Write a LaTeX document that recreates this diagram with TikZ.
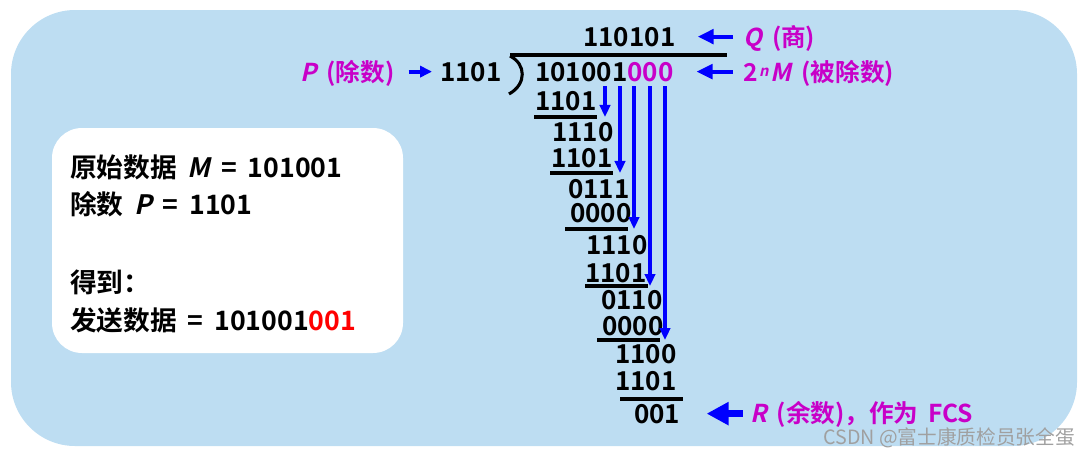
\documentclass[tikz,border=0pt]{standalone}
\usepackage{fontspec}
\setmainfont{Noto Sans CJK SC}[BoldFont={Noto Sans CJK SC Bold},
  ItalicFont={Noto Sans CJK SC}, ItalicFeatures={FakeSlant=0.22},
  BoldItalicFont={Noto Sans CJK SC Bold}, BoldItalicFeatures={FakeSlant=0.22}]
\usetikzlibrary{arrows.meta}
\definecolor{crcbg}{HTML}{BDDDF2}
\definecolor{crcmag}{HTML}{C800C8}
\definecolor{crcblue}{HTML}{0000FF}
\definecolor{crcred}{HTML}{FF0000}
\definecolor{crcmark}{HTML}{A0A0A0}
\newcommand{\supn}{\kern1pt\raisebox{3pt}{\fontsize{10.5}{10.5}\selectfont\textit{n}}\kern1.5pt}
\newcommand{\widespaces}{\spaceskip=0.4em\relax}
\tikzset{
  bits/.style       = {font=\bfseries\fontsize{18.5}{22}\selectfont, inner sep=0pt,
                       anchor=base west, text=black},
  infotext/.style   = {bits, font=\bfseries\fontsize{19}{22}\selectfont,
                       execute at begin node=\widespaces},
  maglbl/.style     = {bits, font=\bfseries\fontsize{17.5}{20}\selectfont,
                       text=crcmag, execute at begin node=\widespaces},
  infobox/.style    = {fill=white, rounded corners=0.75cm},
  panel/.style      = {fill=crcbg, rounded corners=1.6cm},
  bar/.style        = {draw=black, line width=2.2pt},
  bring/.style      = {-{Triangle[length=0.3cm,width=0.26cm]}, draw=crcblue,
                       line width=2.2pt},
  pointer/.style    = {-{Triangle[length=0.4cm,width=0.36cm]}, draw=crcblue,
                       line width=2.9pt},
  minipointer/.style= {-{Triangle[length=0.3cm,width=0.28cm]}, draw=crcblue,
                       line width=2.8pt},
  bigpointer/.style = {-{Triangle[length=0.55cm,width=0.55cm]}, draw=crcblue,
                       line width=5pt},
  wmarktext/.style  = {font=\fontsize{14}{16}\selectfont, text=crcmark,
                       inner sep=0pt, anchor=base west},
}
\begin{document}
\begin{tikzpicture}[x=0.025cm, y=-0.025cm]
  \useasboundingbox (0,0) rectangle (1090,460);

  % ---- panels -----------------------------------------------------------
  \fill[panel] (11,10) rectangle (1077,446);
  \fill[infobox] (52,128) rectangle (403,353);

  \node[infotext] (info1) at (70,177) {原始数据 \textit{M} = 101001};
  \node[infotext] (info2) at (70,214) {除数 \textit{P} = 1101};
  \node[infotext] (info3) at (70,292) {得到：};
  \node[infotext] (info4) at (70,330) {发送数据 = 101001\textcolor{crcred}{001}};

  % ---- long division ----------------------------------------------------
  \node[bits] (quot)    at (583,46) {110101};
  \node[bits] (divd)    at (535,81) {101001\textcolor{crcmag}{000}};
  \node[bits] (divisor) at (440,81) {1101};

  \draw[bar] (510,55) -- (727,55);
  \draw[bar] (510,56) .. controls (526,64) and (527,84) .. (509,94);

  \node[bits] (sub1) at (535,110) {1101};
  \node[bits] (rem1) at (552,141) {1110};
  \node[bits] (sub2) at (551,167) {1101};
  \node[bits] (rem2) at (568,198) {0111};
  \node[bits] (sub3) at (570,222) {0000};
  \node[bits] (rem3) at (586,254) {1110};
  \node[bits] (sub4) at (585,282) {1101};
  \node[bits] (rem4) at (601,309) {0110};
  \node[bits] (sub5) at (602,335) {0000};
  \node[bits] (rem5) at (615,363) {1100};
  \node[bits] (sub6) at (615,390) {1101};
  \node[bits] (fcs)  at (634,423) {001};

  \draw[bar] (534,117) -- (597,117) coordinate (u1);
  \draw[bar] (550,173) -- (613,173) coordinate (u2);
  \draw[bar] (565,229) -- (628,229) coordinate (u3);
  \draw[bar] (585,286) -- (648,286) coordinate (u4);
  \draw[bar] (597,340) -- (660,340) coordinate (u5);
  \draw[bar] (620,399) -- (683,399);

  % ---- bring-down arrows ------------------------------------------------
  \foreach \c/\x in {1/605, 2/620, 3/634, 4/650, 5/665}
    \coordinate (top\c) at (\x,86);
  \foreach \c in {1,...,5}
    \draw[bring] (top\c) -- (top\c |- u\c);

  % ---- labels -----------------------------------------------------------
  \node[maglbl] (qname) at (743,46) {\textit{Q} (商)};
  \node[maglbl] (mname) at (743,81) {2\supn\textit{M} (被除数)};
  \node[maglbl] (pname) at (300,81) {\textit{P} (除数)};
  \node[maglbl] (rname) at (750,422) {\textit{R} (余数)，作为 FCS};

  \draw[pointer, shorten <=0.25cm, shorten >=0.55cm]
    (qname.west |- quot.east) -- (quot.east);
  \draw[pointer, shorten <=0.25cm, shorten >=0.57cm]
    (mname.west |- divd.east) -- (divd.east);
  \draw[minipointer, shorten <=0.35cm, shorten >=0.2cm]
    (pname.east |- divisor.west) -- (divisor.west);
  \draw[bigpointer, shorten <=0.18cm, shorten >=0.65cm]
    (rname.west |- fcs.east) -- (fcs.east);

  \node[wmarktext] (wmark) at (823,444) {CSDN @富士康质检员张全蛋};
\end{tikzpicture}
\end{document}
